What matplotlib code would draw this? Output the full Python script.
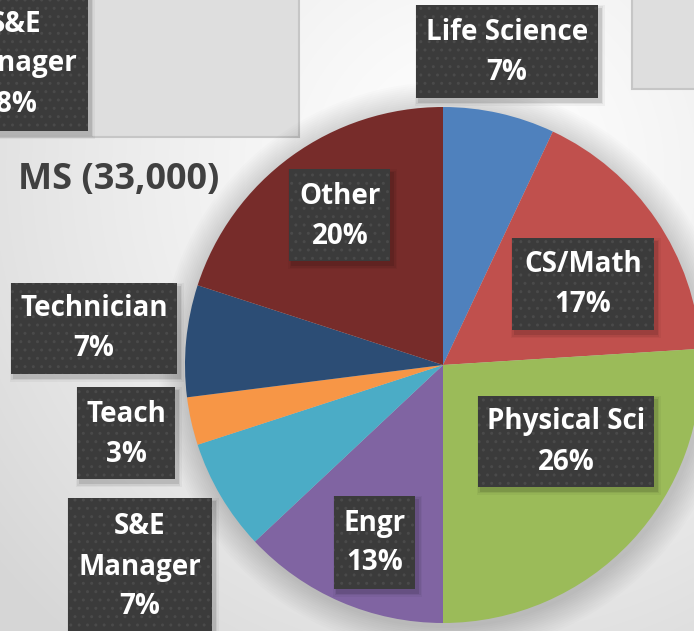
import matplotlib.pyplot as plt
import numpy as np
from matplotlib.patches import Rectangle, Circle

plt.rcParams['font.family'] = ['Open Sans', 'DejaVu Sans']

W, H = 694, 631

# MS degree holders by occupation (share in %)
categories = ['Life Science', 'CS/Math', 'Physical Sci', 'Engr',
              'S&E\nManager', 'Teach', 'Technician', 'Other']
shares = [7, 17, 26, 13, 7, 3, 7, 20]
colors = ['#4F81BD', '#C0504D', '#9BBB59', '#8064A2',
          '#4BACC6', '#F79646', '#2C4D75', '#772C2A']
title = 'MS (33,000)'

# cut-off label of the neighbouring chart
side_label = 'S&E\nManager'
side_share = 8

# label boxes in pixels: centre x, centre y, width, height
label_boxes = [
    (507, 51, 182, 93),
    (583, 284, 142, 92),
    (566, 441, 176, 91),
    (375, 542, 81, 93),
    (140, 566, 144, 136),
    (126, 433, 98, 92),
    (94, 328, 166, 91),
    (340, 215, 101, 92),
]
side_box = (16, 63, 144, 135)

pie_center = (443, 365)
pie_radius = 258


def draw_box(ax, cx, cy, w, h, text):
    x0, y0 = cx - w / 2, cy - h / 2
    # soft shadow
    for k, a in [(8, 0.04), (5, 0.06), (2, 0.10)]:
        ax.add_patch(Rectangle((x0 + 3 - k / 2, y0 + 4 - k / 2), w + k, h + k,
                               facecolor='black', edgecolor='none', alpha=a, zorder=5))
    ax.add_patch(Rectangle((x0, y0), w, h, facecolor='#3b3b3b', edgecolor='none', zorder=6))
    ax.add_patch(Rectangle((x0, y0), w, h, facecolor='none', edgecolor='#4a4a4a',
                           linewidth=0, hatch='..', zorder=6.5))
    ax.text(cx, cy + 1, text, ha='center', va='center', color='white', fontsize=20,
            fontweight='bold', linespacing=1.5, zorder=7)


fig = plt.figure(figsize=(W / 100, H / 100), dpi=100)
ax = fig.add_axes([0, 0, 1, 1])

# background gradient
yy, xx = np.mgrid[0:H, 0:W]
d = np.hypot(xx - 470, yy - 170) / 620
bg = 1.0 - 0.16 * np.clip(d, 0, 1) ** 1.3
ax.imshow(np.dstack([bg, bg, bg]), extent=(0, W, H, 0), zorder=0, aspect='auto')

# grey panels at the top
ax.add_patch(Rectangle((-10, -10), 309, 147, facecolor='#dedede', edgecolor='#c6c6c6',
                       linewidth=1.5, zorder=1))
ax.add_patch(Rectangle((632, -10), 80, 99, facecolor='#dedede', edgecolor='#c6c6c6',
                       linewidth=1.5, zorder=1))

# soft pie shadow
for k in range(2, 30, 2):
    ax.add_patch(Circle((pie_center[0] + 2, pie_center[1] + 3), pie_radius + k,
                        facecolor='black', edgecolor='none', alpha=0.01, zorder=2))

ax.pie(shares, colors=colors, startangle=-90, counterclock=True,
       center=pie_center, radius=pie_radius,
       wedgeprops=dict(edgecolor='none', zorder=3))

for (cx, cy, w, h), cat, v in zip(label_boxes, categories, shares):
    draw_box(ax, cx, cy, w, h, f'{cat}\n{v}%')
draw_box(ax, *side_box, f'{side_label}\n{side_share}%')

ax.text(18, 180, title, ha='left', va='center', color='#404040', fontsize=26,
        fontweight='bold', zorder=7)

ax.set_xlim(0, W)
ax.set_ylim(H, 0)
ax.set_aspect('auto')
ax.axis('off')

fig.savefig('out.png', dpi=100)
